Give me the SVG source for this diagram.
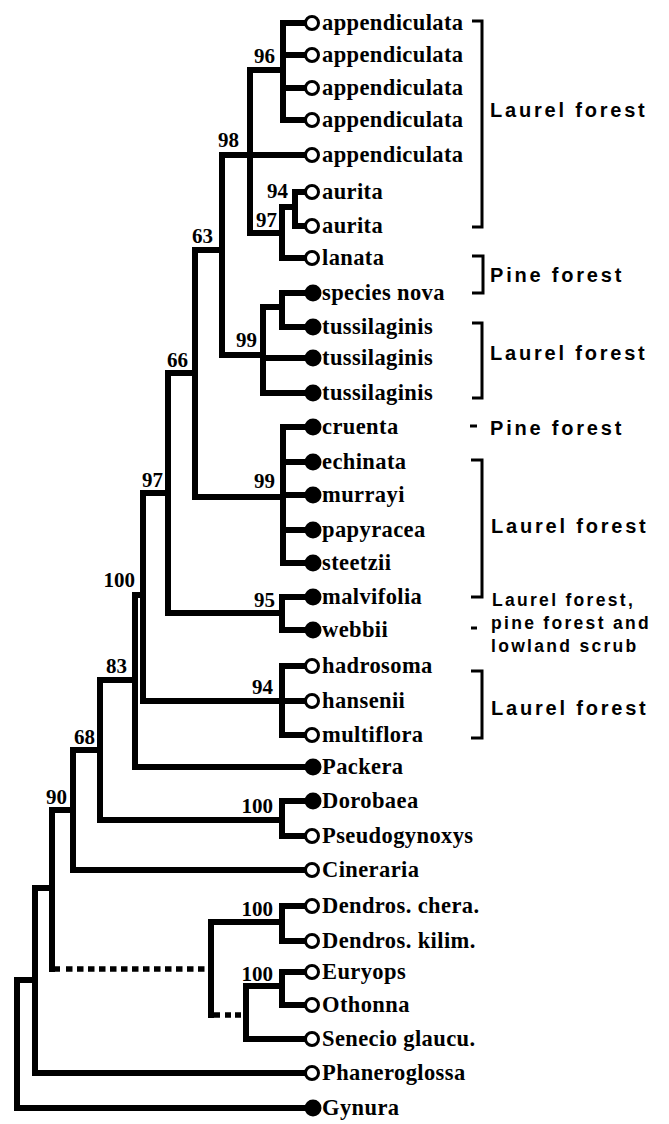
<svg xmlns="http://www.w3.org/2000/svg" width="669" height="1124" viewBox="0 0 669 1124">
<style>
.e{fill:none;stroke:#000;stroke-width:6;stroke-linecap:square;stroke-linejoin:miter}
.d{fill:none;stroke:#000;stroke-width:5.5;stroke-linecap:butt}
.o{fill:#fff;stroke:#000;stroke-width:3}
.f{fill:#000}
.t{font-family:"Liberation Serif",serif;font-weight:bold;font-size:22.5px;letter-spacing:0.4px;fill:#000}
.b{font-family:"Liberation Serif",serif;font-weight:bold;font-size:21px;text-anchor:end;fill:#000}
.h{font-family:"Liberation Sans",Arial,sans-serif;font-weight:bold;font-size:20px;letter-spacing:2.8px;fill:#000}
.s{font-family:"Liberation Sans",Arial,sans-serif;font-weight:bold;font-size:17.5px;letter-spacing:2.3px;fill:#000}
.br{fill:none;stroke:#000;stroke-width:3}
</style>
<rect width="669" height="1124" fill="#fff"/>
<g id="connectors">
<path class="e" d="M283,23 V120 M283,23 H312 M283,55 H312 M283,88 H312 M283,120 H312"/>
<path class="e" d="M250,70 V233 M250,70 H283 M250,155 H312 M250,233 H282"/>
<path class="e" d="M282,207 V258 M282,207 H295 M282,258 H312"/>
<path class="e" d="M295,192 V226 M295,192 H312 M295,226 H312"/>
<path class="e" d="M222,155 V355 M222,155 H250 M222,355 H263"/>
<path class="e" d="M263,307 V393 M263,307 H282 M263,358 H312 M263,393 H312"/>
<path class="e" d="M282,293 V327 M282,293 H312 M282,327 H312"/>
<path class="e" d="M195,250 V497 M195,250 H222 M195,497 H283"/>
<path class="e" d="M283,427 V563 M283,427 H312 M283,462 H312 M283,495 H312 M283,530 H312 M283,563 H312"/>
<path class="e" d="M168,373 V613 M168,373 H195 M168,613 H282"/>
<path class="e" d="M282,597 V630 M282,597 H312 M282,630 H312"/>
<path class="e" d="M143,493 V701 M143,493 H168 M143,701 H312"/>
<path class="e" d="M282,666 V735 M282,666 H312 M282,735 H312"/>
<path class="e" d="M135,595 V767 M135,595 H143 M135,767 H312"/>
<path class="e" d="M100,680 V820 M100,680 H135 M100,820 H282"/>
<path class="e" d="M282,801 V836 M282,801 H312 M282,836 H312"/>
<path class="e" d="M73,750 V870 M73,750 H100 M73,870 H312"/>
<path class="e" d="M52,810 V969 M52,810 H73"/>
<path class="d" d="M49,969 H60"/>
<path class="d" d="M66,969 H205" stroke-dasharray="6.5 4.5"/>
<path class="e" d="M211,922 V1015 M211,922 H282"/>
<path class="d" d="M208,1015 H220"/>
<path class="d" d="M225,1015 H241" stroke-dasharray="6 4"/>
<path class="e" d="M282,906 V941 M282,906 H312 M282,941 H312"/>
<path class="e" d="M246,986 V1039 M246,986 H282 M246,1039 H312"/>
<path class="e" d="M282,972 V1005 M282,972 H312 M282,1005 H312"/>
<path class="e" d="M35,888 V1073 M35,888 H52 M35,1073 H312"/>
<path class="e" d="M17,980 V1108 M17,980 H35 M17,1108 H313"/>
</g>
<g id="support">
<text class="b" x="275" y="63">96</text>
<text class="b" x="239" y="147">98</text>
<text class="b" x="213" y="243">63</text>
<text class="b" x="188" y="367">66</text>
<text class="b" x="163" y="487">97</text>
<text class="b" x="135" y="587">100</text>
<text class="b" x="127" y="673">83</text>
<text class="b" x="95" y="744">68</text>
<text class="b" x="67" y="804">90</text>
<text class="b" x="277" y="227">97</text>
<text class="b" x="288" y="198">94</text>
<text class="b" x="257" y="347">99</text>
<text class="b" x="275" y="488">99</text>
<text class="b" x="275" y="607">95</text>
<text class="b" x="273" y="694">94</text>
<text class="b" x="273" y="813">100</text>
<text class="b" x="273" y="916">100</text>
<text class="b" x="273" y="981">100</text>
</g>
<g id="n-app1"><circle class="o" cx="312" cy="23" r="6.5"/><text class="t" x="322" y="30">appendiculata</text></g>
<g id="n-app2"><circle class="o" cx="312" cy="55" r="6.5"/><text class="t" x="322" y="62">appendiculata</text></g>
<g id="n-app3"><circle class="o" cx="312" cy="88" r="6.5"/><text class="t" x="322" y="95">appendiculata</text></g>
<g id="n-app4"><circle class="o" cx="312" cy="120" r="6.5"/><text class="t" x="322" y="127">appendiculata</text></g>
<g id="n-app5"><circle class="o" cx="312" cy="155" r="6.5"/><text class="t" x="322" y="162">appendiculata</text></g>
<g id="n-aur1"><circle class="o" cx="312" cy="192" r="6.5"/><text class="t" x="322" y="199">aurita</text></g>
<g id="n-aur2"><circle class="o" cx="312" cy="226" r="6.5"/><text class="t" x="322" y="233">aurita</text></g>
<g id="n-lan"><circle class="o" cx="312" cy="258" r="6.5"/><text class="t" x="322" y="265">lanata</text></g>
<g id="n-spn"><circle class="f" cx="313" cy="293" r="8.5"/><text class="t" x="322" y="300">species nova</text></g>
<g id="n-tus1"><circle class="f" cx="313" cy="327" r="8.5"/><text class="t" x="322" y="334">tussilaginis</text></g>
<g id="n-tus2"><circle class="f" cx="313" cy="358" r="8.5"/><text class="t" x="322" y="365">tussilaginis</text></g>
<g id="n-tus3"><circle class="f" cx="313" cy="393" r="8.5"/><text class="t" x="322" y="400">tussilaginis</text></g>
<g id="n-cru"><circle class="f" cx="313" cy="427" r="8.5"/><text class="t" x="322" y="434">cruenta</text></g>
<g id="n-ech"><circle class="f" cx="313" cy="462" r="8.5"/><text class="t" x="322" y="469">echinata</text></g>
<g id="n-mur"><circle class="f" cx="313" cy="495" r="8.5"/><text class="t" x="322" y="502">murrayi</text></g>
<g id="n-pap"><circle class="f" cx="313" cy="530" r="8.5"/><text class="t" x="322" y="537">papyracea</text></g>
<g id="n-ste"><circle class="f" cx="313" cy="563" r="8.5"/><text class="t" x="322" y="570">steetzii</text></g>
<g id="n-mal"><circle class="f" cx="313" cy="597" r="8.5"/><text class="t" x="322" y="604">malvifolia</text></g>
<g id="n-web"><circle class="f" cx="313" cy="630" r="8.5"/><text class="t" x="322" y="637">webbii</text></g>
<g id="n-had"><circle class="o" cx="312" cy="666" r="6.5"/><text class="t" x="322" y="673">hadrosoma</text></g>
<g id="n-han"><circle class="o" cx="312" cy="701" r="6.5"/><text class="t" x="322" y="708">hansenii</text></g>
<g id="n-mul"><circle class="o" cx="312" cy="735" r="6.5"/><text class="t" x="322" y="742">multiflora</text></g>
<g id="n-pac"><circle class="f" cx="313" cy="767" r="8.5"/><text class="t" x="322" y="774">Packera</text></g>
<g id="n-dor"><circle class="f" cx="313" cy="801" r="8.5"/><text class="t" x="322" y="808">Dorobaea</text></g>
<g id="n-pse"><circle class="o" cx="312" cy="836" r="6.5"/><text class="t" x="322" y="843">Pseudogynoxys</text></g>
<g id="n-cin"><circle class="o" cx="312" cy="870" r="6.5"/><text class="t" x="322" y="877">Cineraria</text></g>
<g id="n-dch"><circle class="o" cx="312" cy="906" r="6.5"/><text class="t" x="322" y="913">Dendros. chera.</text></g>
<g id="n-dki"><circle class="o" cx="312" cy="941" r="6.5"/><text class="t" x="322" y="948">Dendros. kilim.</text></g>
<g id="n-eur"><circle class="o" cx="312" cy="972" r="6.5"/><text class="t" x="322" y="979">Euryops</text></g>
<g id="n-oth"><circle class="o" cx="312" cy="1005" r="6.5"/><text class="t" x="322" y="1012">Othonna</text></g>
<g id="n-sen"><circle class="o" cx="312" cy="1039" r="6.5"/><text class="t" x="322" y="1046">Senecio glaucu.</text></g>
<g id="n-pha"><circle class="o" cx="312" cy="1073" r="6.5"/><text class="t" x="322" y="1080">Phaneroglossa</text></g>
<g id="n-gyn"><circle class="f" cx="313" cy="1108" r="8.5"/><text class="t" x="322" y="1115">Gynura</text></g>
<g id="habitats">
<path class="br" d="M472,21 H482 V227 H472"/>
<text class="h" x="490" y="117">Laurel forest</text>
<path class="br" d="M472,256 H483 V293 H472"/>
<text class="h" x="490" y="282">Pine forest</text>
<path class="br" d="M472,323 H482 V398 H472"/>
<text class="h" x="490" y="360">Laurel forest</text>
<path class="br" d="M470,426 H477"/>
<text class="h" x="490" y="435">Pine forest</text>
<path class="br" d="M471,460 H482 V597 H471"/>
<text class="h" x="491" y="533">Laurel forest</text>
<text class="s" x="492" y="606">Laurel forest,</text>
<path class="br" d="M471,628 H477"/>
<text class="s" x="491" y="629">pine forest and</text>
<text class="s" x="491" y="652">lowland scrub</text>
<path class="br" d="M471,671 H482 V738 H471"/>
<text class="h" x="491" y="715">Laurel forest</text>
</g>
</svg>
